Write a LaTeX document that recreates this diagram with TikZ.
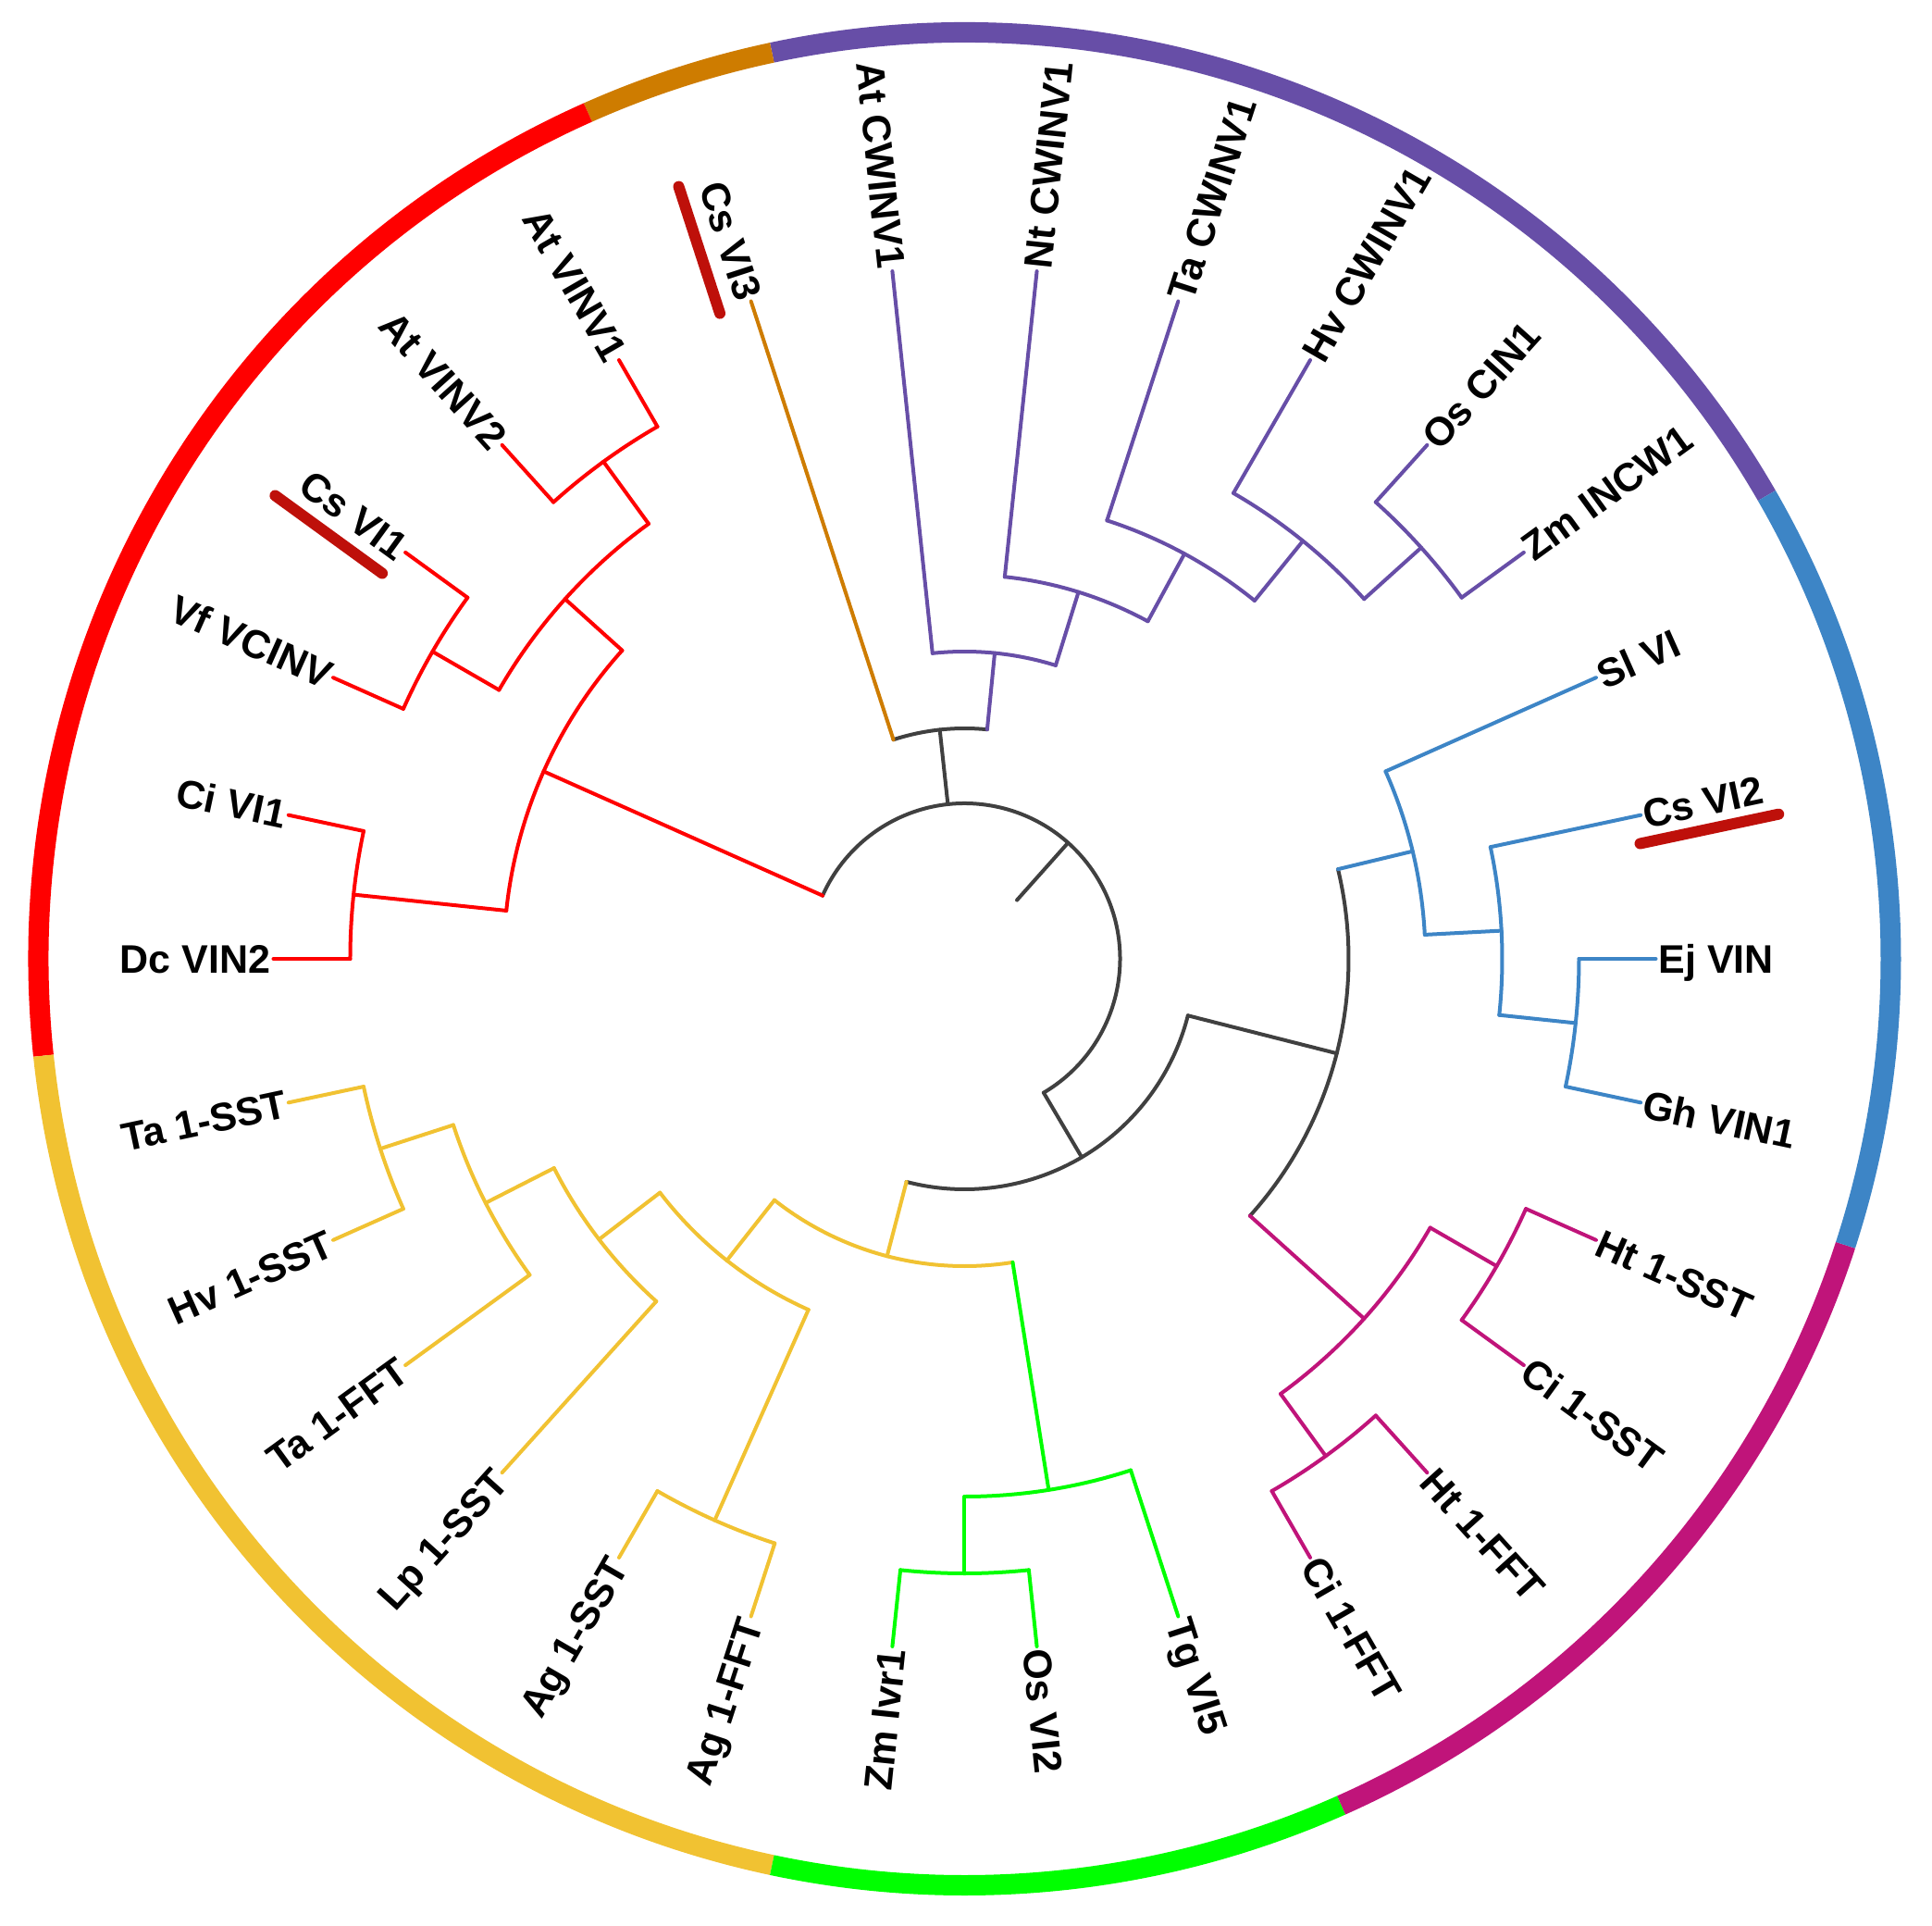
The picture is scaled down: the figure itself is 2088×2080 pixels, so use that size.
\documentclass[tikz,border=0pt]{standalone}
\usepackage{fontspec}
\setmainfont{Liberation Sans}
\definecolor{cgray}{RGB}{64,64,64}
\definecolor{cred}{RGB}{255,0,0}
\definecolor{cbrown}{RGB}{206,124,0}
\definecolor{cpurple}{RGB}{103,78,167}
\definecolor{cblue}{RGB}{61,133,198}
\definecolor{cmag}{RGB}{192,20,122}
\definecolor{cgreen}{RGB}{0,255,0}
\definecolor{cgold}{RGB}{241,194,50}
\definecolor{cbar}{RGB}{190,16,10}
% internal node: name, colour, angle, radius, parent radius, arc start, arc end
\newcommand\TNode[7]{%
  \coordinate (#1) at (#3:#4);
  \draw[branch,#2] (#3:#5) -- (#1);
  \draw[branch,#2] (#6:#4) arc[start angle=#6,end angle=#7,radius=#4];}
\begin{document}
\begin{tikzpicture}[x=1pt,y=1pt,
  branch/.style={line width=4pt,line cap=round,line join=round},
  ring/.style={line width=22pt},
  bar/.style={line width=12pt,line cap=round,draw=cbar},
  lbl/.style={inner sep=0pt,font=\fontsize{43}{50}\selectfont\bfseries,text height=31pt,text depth=0pt},
  lblR/.style={lbl,anchor=west},
  lblL/.style={lbl,anchor=east}]
\useasboundingbox (-1042.5,-1044) rectangle (1045.5,1036);
\fill[white] (-1042.5,-1044) rectangle (1045.5,1036);

% outer ring
\draw[ring,cpurple] (30:1001) arc[start angle=30,end angle=102,radius=1001];
\draw[ring,cbrown] (102:1001) arc[start angle=102,end angle=114,radius=1001];
\draw[ring,cred] (114:1001) arc[start angle=114,end angle=186,radius=1001];
\draw[ring,cgold] (186:1001) arc[start angle=186,end angle=258,radius=1001];
\draw[ring,cgreen] (258:1001) arc[start angle=258,end angle=294,radius=1001];
\draw[ring,cmag] (294:1001) arc[start angle=294,end angle=342,radius=1001];
\draw[ring,cblue] (342:1001) arc[start angle=342,end angle=390,radius=1001];

% root
\coordinate (root) at (48.28:85);
\draw[branch,cgray] (root) -- (48.28:168);
\draw[branch,cgray] (-59.4375:168) arc[start angle=-59.4375,end angle=156,radius=168];

% internal nodes
\TNode{nBP}{cgray}{96.1875}{249}{168}{84.375}{108}
\TNode{nP5}{cpurple}{84.375}{332}{249}{72.75}{96}
\TNode{nP4}{cpurple}{72.75}{415}{332}{61.5}{84}
\TNode{nP3}{cpurple}{61.5}{498}{415}{51}{72}
\TNode{nP2}{cpurple}{51}{581}{498}{42}{60}
\TNode{nP1}{cpurple}{42}{664}{581}{36}{48}

\TNode{nR5}{cred}{156}{498}{168}{138}{174}
\TNode{nR4}{cred}{174}{664}{498}{168}{180}
\TNode{nR3}{cred}{138}{581}{498}{126}{150}
\TNode{nR2}{cred}{150}{664}{581}{144}{156}
\TNode{nR1}{cred}{126}{664}{581}{120}{132}

\TNode{nBot}{cgray}{300.5625}{249}{168}{255.375}{345.75}
\TNode{nGE}{cgold}{255.375}{332}{249}{231.75}{279}
\TNode{nG5}{cgold}{231.75}{415}{332}{217.5}{246}
\TNode{nG4}{cgold}{246}{664}{415}{240}{252}
\TNode{nG3}{cgold}{217.5}{498}{415}{207}{228}
\TNode{nG2}{cgold}{207}{581}{498}{198}{216}
\TNode{nG1}{cgold}{198}{664}{581}{192}{204}
\TNode{nE2}{cgreen}{279}{581}{332}{270}{288}
\TNode{nE1}{cgreen}{270}{664}{581}{264}{276}

\TNode{nBM}{cgray}{-14.25}{415}{249}{-42}{13.5}
\TNode{nB3}{cblue}{13.5}{498}{415}{3}{24}
\TNode{nB2}{cblue}{3}{581}{498}{-6}{12}
\TNode{nB1}{cblue}{-6}{664}{581}{-12}{0}
\TNode{nM3}{cmag}{-42}{581}{415}{-54}{-30}
\TNode{nM2}{cmag}{-54}{664}{581}{-60}{-48}
\TNode{nM1}{cmag}{-30}{664}{581}{-36}{-24}

% highlight bars
\draw[bar,rotate=12] (740,-30) -- (893,-30);
\draw[bar,rotate=108] (745,36) -- (889,36);
\draw[bar,rotate=144] (754,33) -- (897,33);

% leaves, right half
\foreach \a/\n/\t/\p/\c in {
  36/zmincw/Zm INCW1/664/cpurple, 48/oscin/Os CIN1/664/cpurple,
  60/hvcw/Hv CWINV1/581/cpurple, 72/tacw/Ta CWINV1/498/cpurple,
  84/ntcw/Nt CWINV1/415/cpurple,
  24/slvi/Sl VI/498/cblue, 12/csvi2/Cs VI2/581/cblue,
  0/ejvin/Ej VIN/664/cblue, -12/ghvin/Gh VIN1/664/cblue,
  -24/ht1sst/Ht 1-SST/664/cmag, -36/ci1sst/Ci 1-SST/664/cmag,
  -48/ht1fft/Ht 1-FFT/664/cmag, -60/ci1fft/Ci 1-FFT/664/cmag,
  -72/tgvi5/Tg VI5/581/cgreen, -84/osvi2/Os VI2/664/cgreen}{
  \coordinate (t-\n) at (\a:747);
  \draw[branch,\c] (\a:\p) -- (t-\n);
  \node[lblR,rotate=\a] (l-\n) at (\a:750) {\t};
}
% leaves, left half
\foreach \a/\n/\t/\p/\c in {
  96/atcw/At CWINV1/332/cpurple, 108/csvi3/Cs VI3/249/cbrown,
  120/atvinv1/At VINV1/664/cred, 132/atvinv2/At VINV2/664/cred,
  144/csvi1/Cs VI1/664/cred, 156/vfvcinv/Vf VCINV/664/cred,
  168/civi1/Ci VI1/664/cred, 180/dcvin2/Dc VIN2/664/cred,
  192/ta1sst/Ta 1-SST/664/cgold, 204/hv1sst/Hv 1-SST/664/cgold,
  216/ta1fft/Ta 1-FFT/581/cgold, 228/lp1sst/Lp 1-SST/498/cgold,
  240/ag1sst/Ag 1-SST/664/cgold, 252/ag1fft/Ag 1-FFT/664/cgold,
  264/zmivr1/Zm Ivr1/664/cgreen}{
  \coordinate (t-\n) at (\a:747);
  \draw[branch,\c] (\a:\p) -- (t-\n);
  \node[lblL,rotate=\a+180] (l-\n) at (\a:750) {\t};
}
\end{tikzpicture}
\end{document}
